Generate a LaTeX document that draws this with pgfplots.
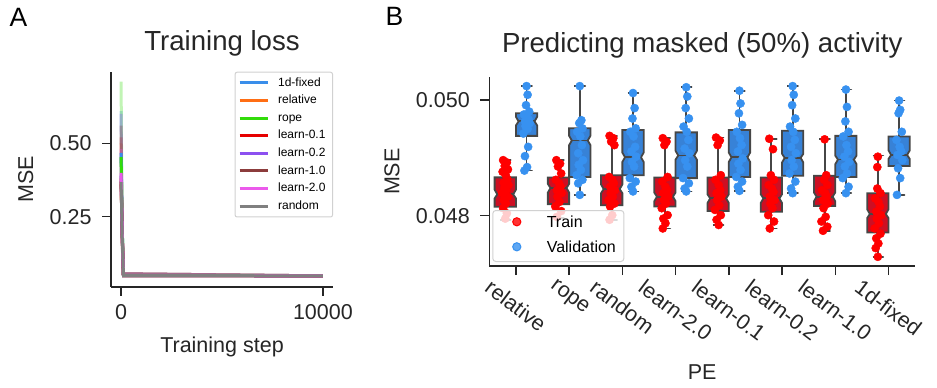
\documentclass[border=0pt]{standalone}
\usepackage{fontspec}
\setmainfont{Liberation Sans}
\usepackage{graphicx}
\usepackage{pgfplots}
\pgfplotsset{compat=1.18}

\definecolor{spine}{RGB}{38,38,38}
\definecolor{c1d}{RGB}{58,142,234}
\definecolor{crel}{RGB}{255,110,20}
\definecolor{crope}{RGB}{50,220,10}
\definecolor{cl01}{RGB}{230,0,0}
\definecolor{cl02}{RGB}{140,80,240}
\definecolor{cl10}{RGB}{140,60,60}
\definecolor{cl20}{RGB}{235,90,235}
\definecolor{crand}{RGB}{128,128,128}
\definecolor{ptred}{RGB}{255,0,0}
\definecolor{ptblue}{RGB}{55,145,240}
\definecolor{boxred}{RGB}{205,15,35}
\definecolor{boxblue}{RGB}{55,130,215}
\definecolor{edge}{RGB}{70,70,70}

\newcommand{\ticksize}{\fontsize{21.5}{24}\selectfont}
\newcommand{\titlesize}{\fontsize{27.6}{30}\selectfont}

% strip points (jittered x, value)
\pgfplotstableread{
x y
-0.24 0.04896
-0.17 0.04892
-0.21 0.04886
-0.15 0.04880
-0.25 0.04876
-0.19 0.04870
-0.16 0.04863
-0.23 0.04857
-0.14 0.04853
-0.22 0.04848
-0.18 0.04843
-0.26 0.04839
-0.15 0.04833
-0.23 0.04827
-0.19 0.04821
-0.24 0.04813
-0.17 0.04804
-0.20 0.04795
0.76 0.04896
0.83 0.04890
0.79 0.04885
0.85 0.04873
0.75 0.04862
0.81 0.04856
0.84 0.04850
0.77 0.04844
0.86 0.04839
0.78 0.04833
0.82 0.04824
0.74 0.04816
0.85 0.04808
0.77 0.04798
1.76 0.04938
1.83 0.04934
1.79 0.04928
1.85 0.04922
1.75 0.04867
1.81 0.04862
1.84 0.04856
1.77 0.04850
1.86 0.04844
1.78 0.04839
1.82 0.04833
1.74 0.04827
1.85 0.04821
1.77 0.04816
1.81 0.04801
1.76 0.04793
2.76 0.04934
2.83 0.04928
2.79 0.04922
2.85 0.04867
2.75 0.04859
2.81 0.04850
2.84 0.04844
2.77 0.04839
2.86 0.04833
2.78 0.04827
2.82 0.04821
2.74 0.04813
2.85 0.04801
2.77 0.04795
2.81 0.04787
2.76 0.04778
3.76 0.04935
3.83 0.04930
3.79 0.04922
3.85 0.04870
3.75 0.04862
3.81 0.04853
3.84 0.04844
3.77 0.04839
3.86 0.04833
3.78 0.04827
3.82 0.04818
3.74 0.04810
3.85 0.04801
3.77 0.04793
3.81 0.04784
4.76 0.04933
4.83 0.04915
4.79 0.04870
4.85 0.04862
4.75 0.04853
4.81 0.04847
4.84 0.04841
4.77 0.04833
4.86 0.04827
4.78 0.04821
4.82 0.04813
4.74 0.04801
4.85 0.04790
4.77 0.04778
5.80 0.04932
5.83 0.04870
5.79 0.04862
5.85 0.04853
5.75 0.04844
5.81 0.04839
5.84 0.04833
5.77 0.04827
5.86 0.04821
5.78 0.04813
5.82 0.04798
5.74 0.04790
5.85 0.04781
5.77 0.04774
6.80 0.04902
6.79 0.04884
6.79 0.04847
6.85 0.04839
6.75 0.04830
6.81 0.04824
6.84 0.04816
6.77 0.04807
6.86 0.04801
6.78 0.04795
6.82 0.04787
6.74 0.04778
6.85 0.04769
6.77 0.04761
6.81 0.04752
6.76 0.04744
6.80 0.04729
}\trainpts

\pgfplotstableread{
x y
0.20 0.05024
0.22 0.05009
0.19 0.04991
0.25 0.04980
0.15 0.04975
0.21 0.04970
0.24 0.04966
0.17 0.04963
0.26 0.04960
0.18 0.04955
0.22 0.04950
0.14 0.04942
0.23 0.04919
0.17 0.04903
0.21 0.04884
0.16 0.04878
1.20 0.05024
1.23 0.04965
1.19 0.04960
1.25 0.04951
1.15 0.04945
1.21 0.04937
1.24 0.04922
1.17 0.04908
1.26 0.04896
1.18 0.04888
1.22 0.04879
1.14 0.04870
1.25 0.04862
1.17 0.04856
1.20 0.04836
2.20 0.05012
2.23 0.04986
2.19 0.04968
2.25 0.04951
2.15 0.04945
2.21 0.04937
2.24 0.04919
2.17 0.04911
2.26 0.04902
2.18 0.04893
2.22 0.04885
2.14 0.04865
2.25 0.04859
2.17 0.04850
2.20 0.04842
3.20 0.05022
3.22 0.05006
3.19 0.04986
3.25 0.04968
3.15 0.04954
3.21 0.04945
3.24 0.04931
3.17 0.04916
3.26 0.04908
3.18 0.04896
3.22 0.04885
3.14 0.04865
3.25 0.04856
3.17 0.04847
3.20 0.04842
4.20 0.05016
4.22 0.04994
4.19 0.04977
4.25 0.04957
4.15 0.04945
4.21 0.04934
4.24 0.04922
4.17 0.04911
4.26 0.04899
4.18 0.04890
4.22 0.04879
4.14 0.04867
4.25 0.04859
4.17 0.04850
4.20 0.04843
5.20 0.05024
5.22 0.05009
5.19 0.04991
5.25 0.04968
5.15 0.04954
5.21 0.04945
5.24 0.04931
5.17 0.04919
5.26 0.04908
5.18 0.04896
5.22 0.04885
5.14 0.04873
5.25 0.04859
5.17 0.04847
5.20 0.04839
6.20 0.05018
6.22 0.04988
6.19 0.04963
6.25 0.04945
6.15 0.04937
6.21 0.04922
6.24 0.04911
6.17 0.04902
6.26 0.04893
6.18 0.04885
6.22 0.04873
6.14 0.04865
6.25 0.04850
6.20 0.04839
7.20 0.04999
7.22 0.04983
7.19 0.04977
7.25 0.04945
7.15 0.04931
7.21 0.04919
7.24 0.04911
7.17 0.04905
7.26 0.04896
7.18 0.04882
7.22 0.04865
7.16 0.04836
}\valpts

% notched box: position, lower whisker, Q1, median, Q3, upper whisker, fill
\newcommand{\pebox}[7]{%
  \pgfmathsetmacro\pbL{#1-0.2}\pgfmathsetmacro\pbR{#1+0.2}%
  \pgfmathsetmacro\pnL{#1-0.15}\pgfmathsetmacro\pnR{#1+0.15}%
  \pgfmathsetmacro\pcL{#1-0.1}\pgfmathsetmacro\pcR{#1+0.1}%
  \pgfmathsetmacro\pmLo{#4-0.00007}\pgfmathsetmacro\pmHi{#4+0.00007}%
  \addplot[forget plot, draw=edge, line width=1.8pt, line join=round]
    coordinates {(\pcL,#6) (\pcR,#6) (#1,#6) (#1,#5)};
  \addplot[forget plot, draw=edge, line width=1.8pt, line join=round]
    coordinates {(\pcL,#2) (\pcR,#2) (#1,#2) (#1,#3)};
  \addplot[forget plot, draw=edge, fill=#7, line width=1.8pt]
    coordinates {(\pbL,#3) (\pbL,\pmLo) (\pnL,#4) (\pbL,\pmHi) (\pbL,#5)
      (\pbR,#5) (\pbR,\pmHi) (\pnR,#4) (\pbR,\pmLo) (\pbR,#3)} -- cycle;
  \addplot[forget plot, draw=edge, line width=1.8pt]
    coordinates {(\pnL,#4) (\pnR,#4)};
}

\pgfplotsset{
  panel/.style={
    scale only axis, axis x line*=bottom, axis y line*=left,
    axis line style={-, line width=1.6pt, draw=spine},
    tick align=outside, major tick length=9pt,
    tick style={line width=1.5pt, draw=spine},
    tick label style={font=\ticksize, text=spine},
    yticklabel style={xshift=-7pt},
    label style={font=\ticksize, text=spine},
    title style={font=\titlesize, text=spine},
    scaled ticks=false,
  },
}

\begin{document}
\begin{tikzpicture}
\useasboundingbox (0,0) rectangle (937pt,-388pt);

\node[anchor=base west, font=\fontsize{26.5}{28}\selectfont, text=black] at (6pt,-26pt) {A};
\node[anchor=base west, font=\fontsize{26.5}{28}\selectfont, text=black] at (382pt,-25pt) {B};

\begin{axis}[panel,
  at={(111pt,-286.7pt)}, anchor=south west, width=222pt, height=215pt,
  xmin=-500, xmax=10500, ymin=0.011, ymax=0.744,
  xtick={0,10000}, xticklabels={0,10000},
  xticklabel style={yshift=-5pt},
  ytick={0.25,0.5}, yticklabels={0.25,0.50},
  title={Training loss},
  title style={at={(axis description cs:0.5,1.073)}, anchor=base},
  xlabel={Training step},
  xlabel style={at={(axis description cs:0.5,-0.308)}, anchor=base},
  ylabel={MSE},
  ylabel style={at={(axis description cs:-0.351,0.5)}, anchor=base},
  legend cell align=left,
  legend image code/.code={\path[draw=none, fill=none] (0pt,-2pt) rectangle (34.5pt,2pt);
    \draw[#1, line width=3pt] (0pt,0pt) -- (28pt,0pt);},
  legend style={at={(1,1)}, anchor=north east, draw=black!18, line width=1pt,
    rounded corners=2pt, fill=white, fill opacity=0.8, text opacity=1,
    font=\fontsize{12}{13}\selectfont, inner xsep=3pt, inner ysep=2pt,
    nodes={inner xsep=4pt, inner ysep=3pt, text height=9pt, text depth=2.6pt}},
]
% raw losses, faint
\addplot[forget plot, c1d, line width=3pt, opacity=0.3] coordinates {(0,0.61) (40,0.25) (100,0.055) (10000,0.048)};
\addplot[forget plot, crel, line width=3pt, opacity=0.3] coordinates {(0,0.50) (40,0.22) (100,0.055) (10000,0.048)};
\addplot[forget plot, crope, line width=3pt, opacity=0.3] coordinates {(0,0.71) (40,0.28) (100,0.055) (10000,0.048)};
\addplot[forget plot, cl01, line width=3pt, opacity=0.3] coordinates {(0,0.52) (40,0.22) (100,0.055) (10000,0.048)};
\addplot[forget plot, cl02, line width=3pt, opacity=0.3] coordinates {(0,0.60) (40,0.25) (100,0.055) (10000,0.048)};
\addplot[forget plot, cl10, line width=3pt, opacity=0.3] coordinates {(0,0.56) (40,0.24) (100,0.055) (10000,0.048)};
\addplot[forget plot, cl20, line width=3pt, opacity=0.3] coordinates {(0,0.48) (40,0.21) (100,0.055) (10000,0.048)};
\addplot[forget plot, crand, line width=3pt, opacity=0.3] coordinates {(0,0.45) (40,0.20) (100,0.055) (10000,0.048)};
% smoothed losses
\addplot[c1d, line width=3pt] coordinates {(0,0.467) (60,0.20) (120,0.049) (10000,0.048)};
\addlegendentry{1d-fixed}
\addplot[crel, line width=3pt] coordinates {(0,0.380) (60,0.18) (120,0.049) (10000,0.048)};
\addlegendentry{relative}
\addplot[crope, line width=3pt] coordinates {(0,0.453) (60,0.20) (120,0.049) (10000,0.048)};
\addlegendentry{rope}
\addplot[cl01, line width=3pt] coordinates {(0,0.370) (60,0.18) (120,0.049) (10000,0.048)};
\addlegendentry{learn-0.1}
\addplot[cl02, line width=3pt] coordinates {(0,0.390) (60,0.18) (120,0.049) (10000,0.048)};
\addlegendentry{learn-0.2}
\addplot[cl10, line width=3pt] coordinates {(0,0.360) (60,0.17) (120,0.049) (10000,0.048)};
\addlegendentry{learn-1.0}
\addplot[cl20, line width=3pt] coordinates {(0,0.399) (60,0.18) (120,0.049) (10000,0.048)};
\addlegendentry{learn-2.0}
\addplot[crand, line width=3pt] coordinates {(0,0.368) (60,0.17) (120,0.049) (10000,0.048)};
\addlegendentry{random}
\end{axis}

\begin{axis}[panel,
  at={(489.3pt,-266pt)}, anchor=south west, width=425.8pt, height=188.7pt,
  xmin=-0.5, xmax=7.5, ymin=0.047131, ymax=0.050392,
  xtick={0,1,2,3,4,5,6,7},
  xticklabels={\rotatebox{-37}{relative},\rotatebox{-37}{rope},\rotatebox{-37}{random},
    \rotatebox{-37}{learn-2.0},\rotatebox{-37}{learn-0.1},\rotatebox{-37}{learn-0.2},
    \rotatebox{-37}{learn-1.0},\rotatebox{-37}{1d-fixed}},
  xticklabel style={anchor=north},
  ytick={0.048,0.05}, yticklabels={0.048,0.050},
  title={Predicting masked (50\%) activity},
  title style={at={(axis description cs:0.5,1.1007)}, anchor=base},
  xlabel={PE},
  xlabel style={at={(axis description cs:0.5,-0.604)}, anchor=base},
  ylabel={MSE},
  ylabel style={at={(axis description cs:-0.2114,0.5)}, anchor=base},
  legend cell align=left,
  legend image code/.code={\path[draw=none, fill=none] (0pt,-3pt) rectangle (46pt,3pt);
    \draw[#1] plot coordinates {(21pt,1.7pt)};},
  legend style={at={(0,0)}, anchor=south west, xshift=3pt, yshift=4pt,
    draw=black!18, line width=1pt, rounded corners=3pt, fill=white,
    fill opacity=0.8, text opacity=1, font=\fontsize{16}{18}\selectfont,
    inner xsep=3pt, inner ysep=3.5pt, row sep=6pt,
    nodes={inner xsep=5pt, inner ysep=2pt, text height=11.5pt, text depth=3.5pt}},
]
\pebox{-0.2}{0.04793}{0.048156}{0.04837}{0.048663}{0.04896}{boxred}
\pebox{0.8}{0.04796}{0.04820}{0.04848}{0.04866}{0.04896}{boxred}
\pebox{1.8}{0.04792}{0.04818}{0.04846}{0.04870}{0.04938}{boxred}
\pebox{2.8}{0.04778}{0.04816}{0.04833}{0.04866}{0.04934}{boxred}
\pebox{3.8}{0.04784}{0.04808}{0.04830}{0.04866}{0.04935}{boxred}
\pebox{4.8}{0.04778}{0.04807}{0.04830}{0.04866}{0.04933}{boxred}
\pebox{5.8}{0.04774}{0.04817}{0.04833}{0.04869}{0.04932}{boxred}
\pebox{6.8}{0.04729}{0.04771}{0.04803}{0.04839}{0.04904}{boxred}
\pebox{0.2}{0.04878}{0.04938}{0.04963}{0.04977}{0.05024}{boxblue}
\pebox{1.2}{0.04836}{0.04867}{0.04930}{0.04951}{0.05024}{boxblue}
\pebox{2.2}{0.04842}{0.04870}{0.04901}{0.04948}{0.05012}{boxblue}
\pebox{3.2}{0.04842}{0.04865}{0.04904}{0.04944}{0.05022}{boxblue}
\pebox{4.2}{0.04843}{0.04867}{0.04901}{0.04948}{0.05016}{boxblue}
\pebox{5.2}{0.04839}{0.04869}{0.04900}{0.04947}{0.05024}{boxblue}
\pebox{6.2}{0.04839}{0.04867}{0.04897}{0.04938}{0.05018}{boxblue}
\pebox{7.2}{0.04836}{0.04886}{0.04905}{0.04937}{0.04999}{boxblue}
\addplot[only marks, mark=*, mark size=4.1pt, color=ptred, draw=none] table {\trainpts};
\addlegendentry{Train}
\addplot[only marks, mark=*, mark size=4.1pt, color=ptblue, draw=none] table {\valpts};
\addlegendentry{Validation}
\end{axis}
\end{tikzpicture}
\end{document}
